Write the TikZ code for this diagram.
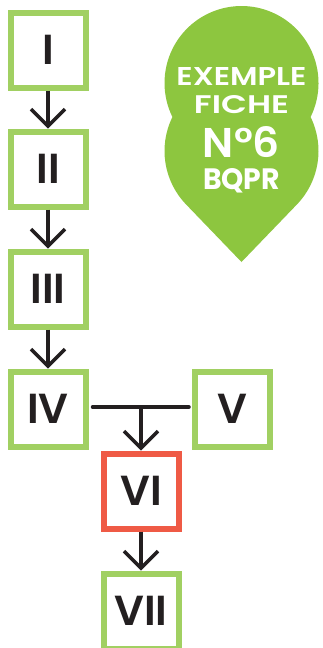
\documentclass[tikz,border=0pt]{standalone}
\usepackage{fontspec}
\usepackage{graphicx}
\usetikzlibrary{arrows.meta,calc}
\newfontfamily\numfont{Poppins SemiBold}
\newfontfamily\badgefont{Poppins SemiBold}
\newfontfamily\badgebold{Poppins Bold}
\definecolor{boxgreen}{HTML}{A1D062}
\definecolor{badgegreen}{HTML}{8DC63F}
\definecolor{boxred}{HTML}{EF5A45}
\definecolor{ink}{HTML}{231F20}
\tikzset{
  stepbox/.style={draw=boxgreen, line width=6pt, minimum size=75pt, inner sep=0pt,
    text=ink, font=\numfont\fontsize{42}{42}\selectfont},
  redbox/.style={stepbox, draw=boxred},
  conn/.style={draw=ink, line width=3.5pt, line cap=round},
  arr/.style={draw=ink, line width=3.5pt, -{Straight Barb[length=17pt,width=34pt]}},
  btext/.style={anchor=base, text=white, inner sep=0pt}
}
\begin{document}
\begin{tikzpicture}[x=1pt,y=1pt]
\useasboundingbox (0,0) rectangle (322,-648);
% badge
\coordinate (U) at (241.5,-83);
\coordinate (L) at (241.5,-151);
\coordinate (A) at (241.5,-262);
\fill[badgegreen] (A) -- ($(L)+(316.1:77)$) arc[start angle=316.1,end angle=386.2,radius=77]
  arc[start angle=-26.2,end angle=206.2,radius=77]
  arc[start angle=153.8,end angle=223.9,radius=77] -- cycle;
\node[btext, font=\badgefont\fontsize{26}{26}\selectfont] (b1) at (241.5,-85) {\resizebox{130pt}{18pt}{EXEMPLE}};
\node[btext, font=\badgefont\fontsize{26}{26}\selectfont] (b2) at (241.5,-113) {\resizebox{95pt}{18pt}{FICHE}};
\node[btext, font=\badgefont\fontsize{43}{43}\selectfont] (b3) at (241.5,-157) {\resizebox{77pt}{31pt}{N°6}};
\node[btext, font=\badgebold\fontsize{28}{28}\selectfont] (b4) at (241.5,-189) {\resizebox{77pt}{21pt}{BQPR}};
% boxes
\node[stepbox] (I) at (48,-50) {I};
\node[stepbox] (II) at (48,-169) {II};
\node[stepbox] (III) at (48,-289) {III};
\node[stepbox] (IV) at (48,-409) {IV};
\node[stepbox] (V) at (232.5,-409) {V};
\node[redbox] (VI) at (141,-491) {VI};
\node[stepbox] (VII) at (141,-611) {VII};
% connectors
\draw[arr] (I) -- (II);
\draw[arr] (II) -- (III);
\draw[arr] (III) -- (IV);
\draw[conn, shorten <=4pt, shorten >=3pt] ([yshift=2pt]IV.east) -- ([yshift=2pt]V.west);
\coordinate (J) at ($(VI.north |- IV.east)+(0,2)$);
\draw[arr] (J) -- (VI);
\draw[arr] (VI) -- (VII);
\end{tikzpicture}
\end{document}
